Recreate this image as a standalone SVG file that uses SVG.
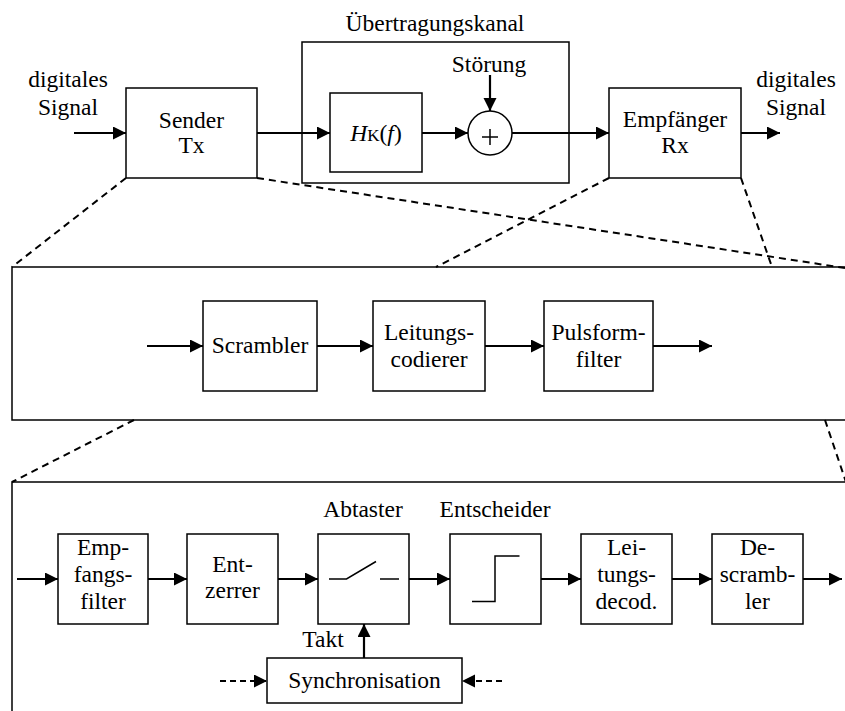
<svg xmlns="http://www.w3.org/2000/svg" width="845" height="711" viewBox="0 0 845 711" font-family="'Liberation Serif', 'Times New Roman', Times, serif">
<defs>
<style>
text{font-family:'Liberation Serif','Times New Roman',Times,serif;font-size:23.5px;fill:#000;text-anchor:middle}
.box{fill:#fff;stroke:#000;stroke-width:1.5}
.frame{fill:none;stroke:#000;stroke-width:1.5}
.arr{stroke:#000;stroke-width:2.2;fill:none;marker-end:url(#ah)}
.darr{stroke:#000;stroke-width:2;fill:none;stroke-dasharray:6,4;marker-end:url(#ah)}
.dash{stroke:#000;stroke-width:2;fill:none;stroke-dasharray:7,5}
.thin{stroke:#000;stroke-width:1.5;fill:none}
</style>
<marker id="ah" markerUnits="userSpaceOnUse" markerWidth="14" markerHeight="14" refX="13" refY="6.5" orient="auto">
<path d="M0,0 L13,6.5 L0,13 z" fill="#000"/>
</marker>
</defs>
<rect width="845" height="711" fill="#fff"/>

<g id="zoom-lines">
<line class="dash" x1="126" y1="178" x2="12" y2="267"/>
<line class="dash" x1="257" y1="178" x2="845" y2="268"/>
<line class="dash" x1="609" y1="178" x2="436" y2="267"/>
<line class="dash" x1="741" y1="178" x2="772" y2="267"/>
<line class="dash" x1="134" y1="420" x2="12" y2="482"/>
<line class="dash" x1="825" y1="420" x2="846" y2="482"/>
</g>

<g id="channel">
<rect class="frame" x="302" y="42" width="267" height="141"/>
<text x="435" y="31">Übertragungskanal</text>
</g>

<g id="sender">
<rect class="box" x="126" y="88" width="131" height="90"/>
<text x="191.5" y="128">Sender</text>
<text x="191.5" y="153">Tx</text>
</g>

<g id="hk">
<rect class="box" x="330" y="93" width="92" height="79"/>
<text x="376" y="141"><tspan font-style="italic">H</tspan><tspan font-size="17">K</tspan>(<tspan font-style="italic">f</tspan>)</text>
</g>

<g id="adder">
<circle cx="490" cy="133" r="22" fill="#fff" stroke="#000" stroke-width="1.5"/>
<line class="thin" x1="482" y1="137" x2="498" y2="137" stroke-width="1"/>
<line class="thin" x1="490" y1="129" x2="490" y2="145" stroke-width="1"/>
</g>

<g id="empfaenger">
<rect class="box" x="609" y="88" width="132" height="90"/>
<text x="675" y="127">Empfänger</text>
<text x="675" y="153">Rx</text>
</g>

<g id="labels-top">
<text x="68" y="87">digitales</text>
<text x="68" y="115">Signal</text>
<text x="796" y="87">digitales</text>
<text x="796" y="115">Signal</text>
<text x="489" y="72">Störung</text>
</g>

<g id="sender-detail">
<rect class="frame" x="12" y="267" width="840" height="153"/>
</g>

<g id="scrambler">
<rect class="box" x="203" y="301" width="114" height="90"/>
<text x="260" y="353">Scrambler</text>
</g>
<g id="leitungscodierer">
<rect class="box" x="373" y="301" width="112" height="90"/>
<text x="429" y="340">Leitungs-</text>
<text x="429" y="367">codierer</text>
</g>
<g id="pulsformfilter">
<rect class="box" x="544" y="301" width="109" height="90"/>
<text x="598.5" y="340">Pulsform-</text>
<text x="598.5" y="367">filter</text>
</g>

<g id="receiver-detail">
<path class="frame" d="M12,720 L12,482 L852,482"/>
</g>

<g id="empfangsfilter">
<rect class="box" x="58" y="534" width="90" height="90"/>
<text x="103" y="555">Emp-</text>
<text x="103" y="582">fangs-</text>
<text x="103" y="609">filter</text>
</g>
<g id="entzerrer">
<rect class="box" x="187" y="534" width="91" height="90"/>
<text x="232.5" y="572">Ent-</text>
<text x="232.5" y="598">zerrer</text>
</g>
<g id="abtaster">
<rect class="box" x="318" y="534" width="91" height="90"/>
<text x="363" y="517">Abtaster</text>
<polyline class="thin" points="329,579 346.5,579 376,561.5"/>
<line class="thin" x1="380" y1="579" x2="399" y2="579"/>
</g>
<g id="entscheider">
<rect class="box" x="450" y="534" width="91" height="90"/>
<text x="495" y="517">Entscheider</text>
<polyline class="thin" points="472,601.5 495,601.5 495,556 519.5,556"/>
</g>
<g id="leitungsdecoder">
<rect class="box" x="581" y="534" width="91" height="90"/>
<text x="626.5" y="555">Lei-</text>
<text x="626.5" y="582">tungs-</text>
<text x="626.5" y="609">decod.</text>
</g>
<g id="descrambler">
<rect class="box" x="712" y="534" width="91" height="90"/>
<text x="757.5" y="555">De-</text>
<text x="757.5" y="582">scramb-</text>
<text x="757.5" y="609">ler</text>
</g>
<g id="synchronisation">
<rect class="box" x="267" y="658" width="195" height="45"/>
<text x="364.5" y="688">Synchronisation</text>
<text x="323" y="647">Takt</text>
</g>

<g id="connectors">
<line class="arr" x1="74" y1="133" x2="126" y2="133"/>
<line class="arr" x1="257" y1="133" x2="330" y2="133"/>
<line class="arr" x1="422" y1="133" x2="468" y2="133"/>
<line class="arr" x1="490" y1="75" x2="490" y2="111"/>
<line class="arr" x1="512" y1="133" x2="609" y2="133"/>
<line class="arr" x1="741" y1="133" x2="780" y2="133"/>

<line class="arr" x1="147" y1="346" x2="203" y2="346"/>
<line class="arr" x1="317" y1="346" x2="373" y2="346"/>
<line class="arr" x1="485" y1="346" x2="544" y2="346"/>
<line class="arr" x1="653" y1="346" x2="712" y2="346"/>

<line class="arr" x1="17" y1="579" x2="58" y2="579"/>
<line class="arr" x1="148" y1="579" x2="187" y2="579"/>
<line class="arr" x1="278" y1="579" x2="318" y2="579"/>
<line class="arr" x1="409" y1="579" x2="450" y2="579"/>
<line class="arr" x1="541" y1="579" x2="581" y2="579"/>
<line class="arr" x1="672" y1="579" x2="712" y2="579"/>
<line class="arr" x1="803" y1="579" x2="842" y2="579"/>
<line class="arr" x1="364" y1="658" x2="364" y2="624"/>
<line class="darr" x1="220" y1="681" x2="267" y2="681"/>
<line class="darr" x1="502" y1="681" x2="462" y2="681"/>
</g>
</svg>
